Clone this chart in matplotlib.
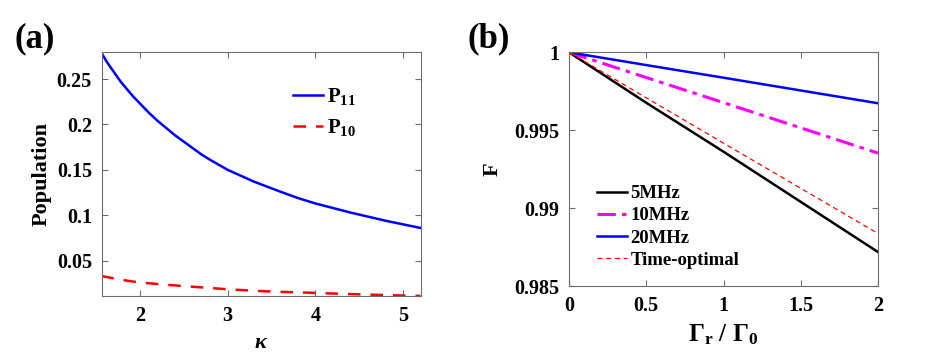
import matplotlib
matplotlib.use("Agg")
import matplotlib.pyplot as plt
from matplotlib.ticker import FormatStrFormatter

plt.rcParams['font.family'] = 'Liberation Serif'
plt.rcParams['font.weight'] = 'bold'
plt.rcParams['mathtext.fontset'] = 'custom'
plt.rcParams['mathtext.rm'] = 'Liberation Serif:bold'
plt.rcParams['mathtext.bf'] = 'Liberation Serif:bold'
plt.rcParams['mathtext.it'] = 'Liberation Serif:italic'

# panel (a)
kappa = [1.56, 1.62, 1.7, 1.78, 1.85, 1.92, 2.0, 2.1, 2.2, 2.3, 2.4, 2.5, 2.6,
         2.7, 2.8, 2.9, 3.0, 3.15, 3.3, 3.45, 3.6, 3.8, 4.0, 4.2, 4.4, 4.6,
         4.8, 5.0, 5.2]
p11 = [0.279, 0.269, 0.258, 0.247, 0.239, 0.231, 0.223, 0.213, 0.204, 0.196,
       0.188, 0.181, 0.174, 0.167, 0.161, 0.1555, 0.150, 0.1435, 0.137, 0.1315,
       0.126, 0.119, 0.113, 0.108, 0.103, 0.0985, 0.094, 0.090, 0.086]
p10 = [0.033, 0.032, 0.0305, 0.0292, 0.028, 0.027, 0.026, 0.0251, 0.0243,
       0.0235, 0.0227, 0.022, 0.0213, 0.0206, 0.0199, 0.0192, 0.0185, 0.0177,
       0.0169, 0.0162, 0.0157, 0.0151, 0.0145, 0.0138, 0.0132, 0.0126, 0.0121,
       0.0116, 0.0112]

# panel (b)
ratio = [0, 0.5, 1.0, 1.5, 2.0]
f5 = [1.0, 0.99676, 0.99362, 0.99040, 0.98718]
f10 = [1.0, 0.99838, 0.99677, 0.99515, 0.99353]
f20 = [1.0, 0.99918, 0.99837, 0.99755, 0.99673]
f_opt = [1.0, 0.99708, 0.99417, 0.99127, 0.98837]

spine_col = '#6e6e6e'

fig = plt.figure(figsize=(9.26, 3.63), dpi=100)
ax1 = fig.add_axes([0.1098, 0.1846, 0.3448, 0.6713])
ax2 = fig.add_axes([0.6145, 0.2121, 0.3337, 0.6438])

def style(ax):
    for s in ax.spines.values():
        s.set_color(spine_col)
        s.set_linewidth(0.8)
    ax.tick_params(direction='in', top=True, right=True, color=spine_col,
                   length=4, labelsize=14.5, pad=7)
    for lab in ax.get_xticklabels() + ax.get_yticklabels():
        lab.set_fontweight('bold')

ax1.plot(kappa, p11, color='#0000ff', lw=1.8, label=r'P$_{\mathbf{11}}$')
ax1.plot(kappa, p10, color='#ff0000', lw=1.8, ls=(0, (5, 4)),
         label=r'P$_{\mathbf{10}}$')
ax1.set_xlim(1.563, 5.205)
ax1.set_ylim(0.0111, 0.2794)
ax1.set_xticks([2, 3, 4, 5])
ax1.set_yticks([0.05, 0.1, 0.15, 0.2, 0.25])
ax1.yaxis.set_major_formatter(FormatStrFormatter('%g'))
ax1.set_ylabel('Population', fontsize=16, fontweight='bold', labelpad=4)
ax1.set_xlabel(r'$\kappa$', fontsize=16, labelpad=6)
style(ax1)
ax1.legend(loc='upper left', bbox_to_anchor=(0.599, 0.86), frameon=False,
           borderpad=0, borderaxespad=0,
           handlelength=1.45, handletextpad=0.2, labelspacing=0.45,
           prop={'weight': 'bold', 'size': 15})

ax2.plot(ratio, f5, color='black', lw=1.8, label='5MHz')
ax2.plot(ratio, f10, color='#ff00ff', lw=2.2, ls=(0, (6, 2, 1.5, 2)), label='10MHz')
ax2.plot(ratio, f20, color='#0000ff', lw=1.8, label='20MHz')
ax2.plot(ratio, f_opt, color='#ff0000', lw=0.9, ls=(0, (4, 3)), label='Time-optimal')
ax2.set_xlim(0, 2)
ax2.set_ylim(0.985, 1.0)
ax2.set_xticks([0, 0.5, 1, 1.5, 2])
ax2.set_yticks([0.985, 0.99, 0.995, 1.0])
ax2.xaxis.set_major_formatter(FormatStrFormatter('%g'))
ax2.yaxis.set_major_formatter(FormatStrFormatter('%g'))
ax2.set_ylabel('F', fontsize=16, fontweight='bold', labelpad=8)
ax2.set_xlabel(r'$\Gamma_{\mathbf{r}}\ /\ \Gamma_{\mathbf{0}}$', fontsize=18, labelpad=5)
style(ax2)
ax2.legend(loc='upper left', bbox_to_anchor=(0.09, 0.432), frameon=False,
           borderpad=0, borderaxespad=0,
           handlelength=1.6, handletextpad=0.2, labelspacing=0.27,
           prop={'weight': 'bold', 'size': 13.5})

fig.text(0.016, 0.87, '(a)', fontsize=25, fontweight='bold')
fig.text(0.505, 0.87, '(b)', fontsize=25, fontweight='bold')

fig.savefig('out.png', dpi=100)
